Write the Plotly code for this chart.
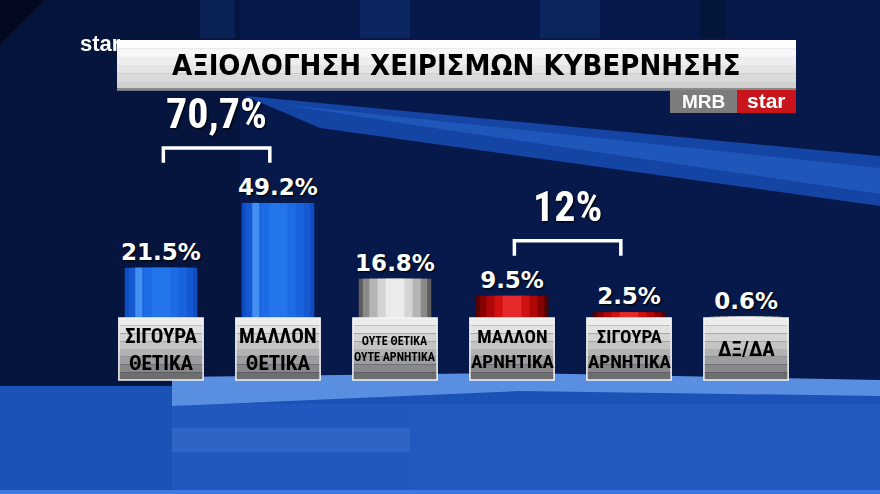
import plotly.graph_objects as go

# ---------------- data ----------------
categories = [
    ["ΣΙΓΟΥΡΑ", "ΘΕΤΙΚΑ"],
    ["ΜΑΛΛΟΝ", "ΘΕΤΙΚΑ"],
    ["ΟΥΤΕ ΘΕΤΙΚΑ", "ΟΥΤΕ ΑΡΝΗΤΙΚΑ"],
    ["ΜΑΛΛΟΝ", "ΑΡΝΗΤΙΚΑ"],
    ["ΣΙΓΟΥΡΑ", "ΑΡΝΗΤΙΚΑ"],
    ["ΔΞ/ΔΑ"],
]
values = [21.5, 49.2, 16.8, 9.5, 2.5, 0.6]
tones = ["blue", "blue", "grey", "red", "red", "grey"]
group_labels = ["70,7%", "12%"]
group_members = [[0, 1], [3, 4]]
title_text = "ΑΞΙΟΛΟΓΗΣΗ ΧΕΙΡΙΣΜΩΝ ΚΥΒΕΡΝΗΣΗΣ"

# ---------------- styling ----------------
W, H = 880, 494
COND = "Roboto Condensed, Open Sans Condensed, DejaVu Sans Condensed, sans-serif"
TITLE_FONT = "DejaVu Sans Condensed, Roboto Condensed, sans-serif"
WIDE = "DejaVu Sans, Verdana, sans-serif"
LOGO = "Liberation Sans, Arial, sans-serif"

palette = {
    "blue": ["#0f4cc0", "#1559d2", "#1a63de", "#1d6be6", "#2474ec"],
    "grey": ["#5c5c5c", "#8a8a8a", "#b4b4b4", "#d4d4d4", "#ebebeb"],
    "red": ["#560000", "#860202", "#ae0707", "#cf1010", "#e42a2a"],
}
layer_widths = [0.62, 0.55, 0.44, 0.3, 0.16]

x = list(range(len(values)))
fig = go.Figure()
for k, wdt in enumerate(layer_widths):
    fig.add_trace(go.Bar(
        x=x, y=values, width=wdt,
        marker=dict(color=[palette[t][k] for t in tones], line_width=0),
        text=[f"{v:.1f}%" for v in values] if k == 0 else None,
        textposition="outside" if k == 0 else "none",
        constraintext="none",
        cliponaxis=False,
        textfont=dict(family=WIDE, size=23, color="white", weight="bold",
                      shadow="1px 1px 2px #000"),
        hoverinfo="skip", showlegend=False,
    ))
# highlight stripe on the blue bars
blue_idx = [i for i, t in enumerate(tones) if t == "blue"]
fig.add_trace(go.Bar(
    x=blue_idx, y=[values[i] for i in blue_idx], width=0.06, offset=-0.22,
    marker=dict(color="#4f9bf7", line_width=0), opacity=0.8,
    hoverinfo="skip", showlegend=False,
))

shapes = []


def pxx(v):
    return v / W


def pyy(v):
    return 1 - v / H


def rect(x0, y0, x1, y1, color, opacity=1.0, layer="below"):
    shapes.append(dict(type="rect", xref="paper", yref="paper",
                       x0=pxx(x0), x1=pxx(x1), y0=pyy(y1), y1=pyy(y0),
                       fillcolor=color, opacity=opacity, line_width=0, layer=layer))


def poly(points, color, opacity=1.0):
    path = "M " + " L ".join(f"{pxx(a):.5f},{pyy(b):.5f}" for a, b in points) + " Z"
    shapes.append(dict(type="path", xref="paper", yref="paper", path=path,
                       fillcolor=color, opacity=opacity, line_width=0, layer="below"))


# background
rect(0, 0, 240, 388, "#04112e", 0.45)
poly([(0, 0), (45, 0), (0, 45)], "#020818", 0.8)
rect(200, 0, 235, 38, "#0d2c68", 0.55)
rect(360, 0, 410, 38, "#0f3274", 0.55)
rect(540, 0, 600, 38, "#0e2f6e", 0.55)
rect(700, 0, 725, 38, "#041330", 0.6)
poly([(245, 96), (880, 156), (880, 206), (320, 128)], "#1444a4", 1)
poly([(280, 104), (880, 168), (880, 194), (420, 126)], "#2562ca", 0.6)
# floor
rect(0, 386, 880, 494, "#1b52b6")
rect(172, 404, 410, 494, "#2058bd")
rect(410, 404, 880, 494, "#2259bf")
rect(172, 428, 410, 452, "#3b72cd", 0.5)
poly([(172, 377), (520, 373), (880, 380), (880, 396), (520, 391), (172, 406)], "#5a8ee0")
rect(0, 490, 880, 494, "#3b7ae2")

# title box
title_strips = ["#ffffff", "#f7f7f7", "#eeeeee", "#e4e4e4", "#dadada", "#cfcfcf"]
for i, c in enumerate(title_strips):
    rect(117, 40 + i * 50 / len(title_strips), 796, 40 + (i + 1) * 50 / len(title_strips) + 0.5, c)
rect(117, 88, 796, 90, "#8a8a8a")
# MRB star logo
rect(670, 90, 737, 113, "#7c7c7c")
rect(737, 90, 796, 113, "#c8141a")

# label boxes (data coordinates)
BOX_H = 26.5
BOX_W = 0.36
box_grad = ["#ededed", "#e2e2e2", "#d4d4d4", "#c4c4c4", "#b2b2b2", "#9e9e9e", "#888888", "#6e6e6e"]
for i in x:
    n = len(box_grad)
    for j, c in enumerate(box_grad):
        shapes.append(dict(type="rect", xref="x", yref="y",
                           x0=i - BOX_W, x1=i + BOX_W,
                           y0=-BOX_H * (j + 1) / n, y1=-BOX_H * j / n + 0.05,
                           fillcolor=c, line_width=0, layer="above"))
    shapes.append(dict(type="rect", xref="x", yref="y",
                       x0=i - BOX_W, x1=i + BOX_W, y0=-BOX_H, y1=0,
                       fillcolor="rgba(0,0,0,0)", line=dict(color="#f4f4f4", width=1.5),
                       layer="above"))

annotations = []
for i, lines in enumerate(categories):
    longest = max(len(s) for s in lines)
    size = 12 if longest > 9 else (19 if longest > 7 else 21)
    annotations.append(dict(x=i, y=-BOX_H / 2, xref="x", yref="y",
                            xanchor="center", yanchor="middle",
                            text="<br>".join(lines), showarrow=False,
                            font=dict(family=COND, size=size, color="black", weight="bold"),
                            align="center"))

# group brackets
for lab, mem in zip(group_labels, group_members):
    top = max(values[m] for m in mem) + 23.5
    xl, xr = mem[0] + 0.02, mem[-1] - 0.07
    shapes.append(dict(type="path", xref="x", yref="y",
                       path=f"M {xl},{top - 6.4} L {xl},{top} L {xr},{top} L {xr},{top - 6.4}",
                       line=dict(color="white", width=3.5), layer="above"))
    annotations.append(dict(x=(xl + xr) / 2, y=top + 3.2, xref="x", yref="y",
                            text=lab, showarrow=False, xanchor="center", yanchor="bottom",
                            font=dict(family=COND, size=42, color="white", weight="bold",
                                      shadow="1px 1px 2px #000")))

# title and logos
annotations.append(dict(x=pxx(456), y=pyy(65), xref="paper", yref="paper",
                        xanchor="center", yanchor="middle",
                        text=title_text, showarrow=False,
                        font=dict(family=TITLE_FONT, size=29, color="black", weight="bold")))
annotations.append(dict(x=pxx(703.5), y=pyy(101.5), xref="paper", yref="paper",
                        xanchor="center", yanchor="middle",
                        text="MRB", showarrow=False,
                        font=dict(family=LOGO, size=19, color="white", weight="bold")))
annotations.append(dict(x=pxx(766.5), y=pyy(100.5), xref="paper", yref="paper",
                        xanchor="center", yanchor="middle",
                        text="star", showarrow=False,
                        font=dict(family=LOGO, size=21, color="white", weight="bold")))
annotations.append(dict(x=pxx(78), y=pyy(44), xref="paper", yref="paper",
                        xanchor="left", yanchor="middle",
                        text="star", showarrow=False,
                        font=dict(family=LOGO, size=22, color="white", weight="bold")))

fig.update_layout(
    width=W, height=H,
    margin=dict(l=0, r=0, t=0, b=0),
    paper_bgcolor="#07194a", plot_bgcolor="rgba(0,0,0,0)",
    barmode="overlay",
    xaxis=dict(range=[-1.376, 6.145], visible=False, fixedrange=True),
    yaxis=dict(range=[-75.2, 135.9], visible=False, fixedrange=True),
    shapes=shapes, annotations=annotations,
    showlegend=False,
)
fig.write_html("out.html", config={"displayModeBar": False},
               post_script="document.body.style.margin='0';document.body.style.overflow='hidden';")
